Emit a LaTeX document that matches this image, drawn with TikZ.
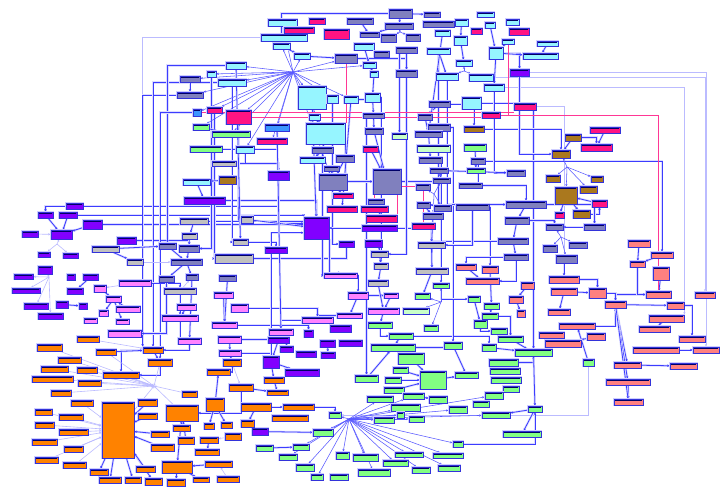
\documentclass[tikz,border=0pt]{standalone}
\usepackage{tikz}
\usetikzlibrary{arrows.meta, fit, backgrounds}
\definecolor{cyanbox}{RGB}{150,245,255}
\definecolor{slatebox}{RGB}{128,128,190}
\definecolor{greybox}{RGB}{192,192,192}
\definecolor{magbox}{RGB}{255,20,130}
\definecolor{brownbox}{RGB}{170,120,30}
\definecolor{purplebox}{RGB}{130,0,255}
\definecolor{pinkbox}{RGB}{255,130,255}
\definecolor{orangebox}{RGB}{255,130,0}
\definecolor{greenbox}{RGB}{130,255,130}
\definecolor{palegreen}{RGB}{200,255,200}
\definecolor{salmonbox}{RGB}{255,128,128}
\definecolor{steelbox}{RGB}{60,150,255}
\definecolor{edgeblue}{RGB}{60,60,255}

\begin{document}
\begin{tikzpicture}[
  x=1pt, y=-1pt,
  >=Stealth,
  nb/.style={draw=edgeblue!85!black, line width=0.8pt, inner sep=0pt,
    preaction={draw=edgeblue!25, line width=2.6pt},
    path picture={\fill[blue!40!black] ([xshift=1pt,yshift=-0.8pt]path picture bounding box.north west)
      rectangle ([xshift=-1pt,yshift=-2pt]path picture bounding box.north east);}},
  ln/.style={draw=edgeblue, line width=0.8pt, -{Stealth[length=2.5pt,width=2.4pt]},
    preaction={draw=edgeblue!18, line width=2.2pt, arrows=-}},
  fan/.style={draw=edgeblue!85, line width=0.55pt, -{Stealth[length=2.5pt,width=2.2pt]}},
  lln/.style={draw=edgeblue!35, line width=0.6pt, -{Stealth[length=2.5pt,width=2.2pt]}},
  rln/.style={draw=magbox!85, line width=0.8pt}
]
\useasboundingbox (0,0) rectangle (723,496);

% Cyan modules
\foreach \n/\xa/\ya/\xb/\yb in {c1/226/62/246/69, c2/207/71/216/77, c3/218/79/246/86, c4/236/146/254/153,
  c5/268/19/297/26, c6/261/34/307/41, c7/273/43/290/49, c8/294/53/310/59, c9/298/86/326/109,
  c10/327/95/338/103, c11/344/96/358/103, c12/309/114/320/120, c13/306/123/345/144, c14/300/157/325/163,
  c15/354/43/374/50, c16/363/62/376/68, c17/370/71/378/77, c18/365/93/380/102, c19/435/30/450/36,
  c20/454/36/467/45, c21/427/48/450/54, c22/456/60/472/66, c23/436/73/458/80, c24/469/74/493/81,
  c25/462/97/481/109, c26/455/19/468/26, c27/477/12/494/17, c28/485/22/495/28, c29/506/19/519/25,
  c30/502/39/514/44, c31/489/47/503/59, c32/537/41/558/46, c33/523/53/558/59, c34/484/84/504/91,
  c35/183/179/210/185}
  \node[nb, fill=cyanbox, fit={(\xa,\ya) (\xb,\yb)}] (\n) {};
\foreach \n/\xa/\ya/\xb/\yb in {t1/193/109/201/116, t2/265/124/289/131}
  \node[nb, fill=steelbox, fit={(\xa,\ya) (\xb,\yb)}] (\n) {};

% Slate modules
\foreach \n/\xa/\ya/\xb/\yb in {s1/180/76/200/82, s2/177/92/203/98, s3/389/9/412/18, s4/424/12/440/17,
  s5/347/18/373/24, s6/385/23/413/29, s7/423/21/454/27, s8/360/32/379/37, s9/381/34/396/42,
  s10/406/34/420/41, s11/374/51/389/57, s12/396/47/417/53, s13/335/54/357/63, s14/396/70/417/77,
  s15/363/113/384/118, s16/418/114/432/120, s17/429/101/450/107, s18/428/124/450/131, s19/365/128/383/134,
  s20/415/131/442/137, s21/312/147/333/153, s22/336/155/354/162, s23/419/157/442/163, s24/471/158/485/164,
  s25/324/166/339/171, s26/319/174/347/190, s27/373/169/401/194, s28/430/168/448/173, s29/433/178/450/183,
  s30/416/184/430/190, s31/459/183/482/188, s32/368/199/384/204, s33/417/202/430/208, s34/434/205/451/211,
  s35/456/204/489/210, s36/423/213/443/219, s37/507/170/525/176, s38/506/201/546/208, s39/505/217/529/224,
  s40/546/224/563/230, s41/584/224/605/230, s42/498/238/528/244, s43/543/245/557/252, s44/569/242/587/248,
  s45/556/255/577/263, s46/504/254/528/260, s47/159/243/176/249, s48/179/245/199/252, s49/171/259/202/265,
  s50/159/276/174/282, s51/186/274/198/280, s52/219/275/236/281}
  \node[nb, fill=slatebox, fit={(\xa,\ya) (\xb,\yb)}] (\n) {};

% Grey modules
\foreach \n/\xa/\ya/\xb/\yb in {y1/212/161/236/166, y2/180/218/208/224, y3/182/233/197/239, y4/92/246/119/252,
  y5/215/254/253/263, y6/127/259/143/265, y7/164/288/196/294, y8/241/216/253/223, y9/233/239/248/245,
  y10/418/242/445/248, y11/371/251/388/257, y12/374/263/388/269, y13/416/268/448/274, y14/368/280/388/286}
  \node[nb, fill=greybox, fit={(\xa,\ya) (\xb,\yb)}] (\n) {};

% Magenta modules
\foreach \n/\xa/\ya/\xb/\yb in {m1/207/107/222/113, m2/226/110/251/124, m3/309/18/325/24, m4/284/27/314/33,
  m5/324/29/349/39, m6/257/138/287/144, m7/363/146/378/152, m8/471/28/482/34, m9/509/28/529/35,
  m10/514/103/536/110, m11/482/112/500/118, m12/590/127/620/133, m13/581/144/612/151, m14/333/193/353/198,
  m15/327/206/357/212, m16/361/206/388/212, m17/366/215/397/222, m18/412/223/435/229, m19/592/200/607/207,
  m20/555/212/564/218}
  \node[nb, fill=magbox, fit={(\xa,\ya) (\xb,\yb)}] (\n) {};

% Brown modules
\foreach \n/\xa/\ya/\xb/\yb in {b1/464/126/484/132, b2/565/134/581/141, b3/552/150/570/158, b4/546/175/560/182,
  b5/591/176/603/182, b6/580/186/597/193, b7/555/187/577/204, b8/573/210/590/218, b9/219/176/236/184}
  \node[nb, fill=brownbox, fit={(\xa,\ya) (\xb,\yb)}] (\n) {};

% Purple modules
\foreach \n/\xa/\ya/\xb/\yb in {p1/510/69/529/76, p2/268/171/289/180, p3/304/217/329/239, p4/362/225/397/231,
  p5/265/247/287/253, p6/339/241/354/247, p7/365/240/382/247, p8/184/197/225/204, p9/66/203/83/209,
  p10/38/212/53/218, p11/59/212/77/218, p12/83/220/102/229, p13/51/230/72/239, p14/22/231/38/237,
  p15/117/237/136/244, p16/38/252/50/257, p17/63/253/78/258, p18/38/266/52/274, p19/14/274/33/279,
  p20/67/274/75/280, p21/83/274/98/280, p22/12/288/40/293, p23/67/288/83/294, p24/56/301/68/308,
  p25/79/303/87/309, p26/24/303/48/309, p27/38/313/63/319, p28/330/325/351/332, p29/304/330/313/337,
  p30/268/337/289/343, p31/320/340/335/347, p32/339/340/362/346, p33/280/346/293/352, p34/296/351/316/357,
  p35/321/352/335/358, p36/263/356/279/368, p37/285/369/319/376, p38/252/428/268/435}
  \node[nb, fill=purplebox, fit={(\xa,\ya) (\xb,\yb)}] (\n) {};

% Pink modules
\foreach \n/\xa/\ya/\xb/\yb in {k1/324/273/357/278, k2/348/292/368/299, k3/384/293/398/298, k4/231/304/248/312,
  k5/368/308/399/314, k6/337/313/362/318, k7/302/317/333/323, k8/269/329/293/335, k9/119/280/151/286,
  k10/94/285/106/292, k11/214/292/233/298, k12/106/296/121/302, k13/116/306/140/312, k14/177/304/196/310,
  k15/99/310/108/316, k16/162/315/198/321, k17/84/318/97/323, k18/116/319/129/324, k19/212/322/237/328,
  k20/108/330/141/337, k21/178/338/201/344, k22/218/336/241/343, k23/219/350/241/356}
  \node[nb, fill=pinkbox, fit={(\xa,\ya) (\xb,\yb)}] (\n) {};

% Orange modules
\foreach \n/\xa/\ya/\xb/\yb in {o1/77/336/99/342, o2/37/344/62/351, o3/96/349/116/355, o4/143/347/163/353,
  o5/58/357/81/363, o6/148/359/172/366, o7/223/359/241/366, o8/41/366/68/372, o9/77/367/97/373,
  o10/103/372/139/378, o11/207/369/230/375, o12/32/376/73/382, o13/78/380/101/386, o14/51/390/71/396,
  o15/182/391/197/397, o16/229/384/253/391, o17/71/400/93/406, o18/138/399/157/406, o19/102/402/134/458,
  o20/166/405/198/421, o21/206/398/224/411, o22/35/409/52/415, o23/138/413/157/419, o24/59/414/83/420,
  o25/35/422/54/428, o26/173/425/190/431, o27/204/423/214/429, o28/221/422/232/428, o29/59/429/88/435,
  o30/151/431/169/437, o31/225/433/241/440, o32/178/437/194/444, o33/200/437/218/443, o34/32/439/57/445,
  o35/151/444/174/451, o36/64/446/83/452, o37/195/449/219/455, o38/35/457/58/463, o39/63/462/86/468,
  o40/136/466/155/472, o41/162/461/192/473, o42/205/461/232/467, o43/90/469/108/475, o44/99/477/121/483,
  o45/125/477/141/483, o46/145/478/162/485, o47/167/479/185/486, o48/193/477/209/482, o49/217/476/239/482,
  o50/264/377/284/383, o51/267/390/288/395, o52/241/403/271/411, o53/283/404/314/410, o54/272/415/308/421,
  o55/241/420/254/427}
  \node[nb, fill=orangebox, fit={(\xa,\ya) (\xb,\yb)}] (\n) {};

% Green modules
\foreach \n/\xa/\ya/\xb/\yb in {g1/193/124/209/130, g2/212/131/250/137, g3/190/146/222/152, g6/464/144/486/151,
  g7/467/168/485/173, g8/433/283/449/288, g9/415/293/430/299, g10/468/296/480/302, g12/368/322/392/328,
  g13/424/325/438/331, g14/474/320/487/328, g15/484/303/499/309, g16/482/313/498/319, g17/491/328/507/334,
  g18/389/333/413/339, g19/498/336/523/342, g20/371/344/415/351, g21/444/342/462/349, g22/482/344/496/351,
  g23/515/349/552/356, g24/398/353/424/364, g25/393/367/408/373, g26/420/371/446/389, g27/455/372/478/378,
  g28/355/375/378/382, g29/385/377/401/383, g30/489/359/518/366, g31/583/359/594/366, g32/490/368/520/374,
  g33/491/377/521/383, g34/384/387/404/393, g35/503/386/519/392, g36/403/393/424/399, g37/429/396/447/403,
  g38/367/396/393/402, g39/485/392/503/399, g40/473/401/489/407, g41/391/404/420/411, g42/449/406/467/413,
  g43/528/406/542/412, g44/482/412/510/418, g45/329/412/341/418, g46/397/412/404/418, g47/374/417/394/423,
  g48/409/416/424/422, g49/313/429/333/436, g50/503/431/541/437, g51/256/445/273/451, g52/293/444/309/450,
  g53/453/441/463/447, g54/279/454/297/460, g55/336/452/349/459, g56/353/454/378/461, g57/395/452/423/457,
  g58/433/453/463/458, g59/383/460/408/466, g60/296/464/314/471, g61/438/465/460/471, g62/412/467/430/473,
  g63/358/469/390/476, g64/311/474/323/480, g65/330/474/348/480}
  \node[nb, fill=greenbox, fit={(\xa,\ya) (\xb,\yb)}] (\n) {};
\foreach \n/\xa/\ya/\xb/\yb in {g4/392/133/407/139, g5/417/145/450/152, g11/403/308/429/314}
  \node[nb, fill=palegreen, fit={(\xa,\ya) (\xb,\yb)}] (\n) {};

% Salmon modules
\foreach \n/\xa/\ya/\xb/\yb in {r1/456/264/476/270, r2/466/278/499/284, r3/482/266/498/273, r4/628/240/650/247,
  r5/651/252/673/258, r6/630/261/645/267, r7/653/267/669/280, r8/549/276/579/283, r9/521/282/534/289,
  r10/589/288/606/298, r11/551/288/577/295, r12/646/291/671/298, r13/509/296/523/303, r14/695/292/715/298,
  r15/605/301/626/308, r16/667/302/684/309, r17/517/310/525/317, r18/548/309/570/315, r19/649/315/684/322,
  r20/559/323/595/329, r21/639/326/670/332, r22/539/332/564/338, r23/545/340/581/347, r24/587/333/605/340,
  r25/679/336/705/342, r26/633/347/679/353, r27/693/347/719/353, r28/614/362/641/368, r29/670/363/697/369,
  r30/606/379/650/385, r31/614/399/643/405}
  \node[nb, fill=salmonbox, fit={(\xa,\ya) (\xb,\yb)}] (\n) {};

% Fan junctions
\coordinate (hubA) at (293,72);
\coordinate (hubB) at (349,419);
\coordinate (hubC) at (154,386);
\coordinate (hubD) at (567,167);
\coordinate (hubE) at (57,244);
\coordinate (hubP) at (49,277);
\coordinate (hubF) at (561,237);
\coordinate (hubG) at (464,71);
\coordinate (hubH) at (400,32);
\coordinate (hubI) at (434,194);
\coordinate (hubJ) at (441,302);

\begin{pgfonlayer}{background}
\fill[white] (0,0) rectangle (723,496);

% Long routed links
\foreach \a/\b in {c6.west/o4.north west, c34.east/r19.north east, c24.east/r14.north, m10.east/r8.north,
  p1.east/r27.north}
  \draw[lln] (\a) -| (\b);
\draw[lln] (g31.south) |- (g45.east);
\foreach \a/\b in {s27/s28, r12/r15, r10/r15, r8/r10, b8/m19, b2/m13, k1/k2, k6/k7, k7/k8, p9/p2,
  p11.east/p3.north west, p12.east/p3.west, p15.east/s48.north, s2.west/o4.north west, c3.west/o4.north,
  c1.west/s47.north, t1.west/o6.north, s3.west/c7.north, c25.east/g23.north, s35.east/r3.north,
  s31.east/s38.north, b1.east/b3.north, s17.east/b1.north, s38.east/s41.north, s39.east/s40.north,
  s45.east/r8.north, g16.east/g19.north, g53.east/g43.south, c31.east/p1.north, s13.east/s14.north,
  c11.east/c18.north, p9.west/p10.north, y2.east/p3.west, o53.east/g45.north, y1.east/p2.north,
  g3.east/t2.south, y5.east/p6.north, y9.east/p5.north, k4.east/k7.north, k19.east/p29.north,
  k22.east/p33.north, k23.east/p36.north, o4.west/o10.north, r20.east/r15.south, r16.east/r25.north,
  g30.east/g23.south, g20.east/g21.north, g18.east/g22.north, p4.east/y10.north, p7.east/y11.north,
  s42.west/y13.north, s46.west/r1.north, p8.east/p3.north, k9.east/y7.north, s24.east/r5.north,
  s15.west/g28.north, s18.east/g21.north, s23.east/g8.north, c18.east/y12.north, s12.east/g4.north}
  \draw[ln] (\a) -| (\b);
\foreach \a/\b in {r6/r12, c23.south/s38.west, c34.south/s37.west, s46.south/r2.east, g8.south/g10.west,
  g14/g17, p36.north/p3.200, p3.south east/k1.north, p2.south/p3.160, c4.south/y1.east,
  c13.south east/s27.west, s24.south/s31.east, s50.south/k20.east, k16.south/k21.west, k21.south/o4.east,
  o7.south/o11.east, o16.south/o20.east, o6.south/o10.east, g12.south/g18.west, s35.south/y10.east,
  c2.south/s48.east, m1.south/y5.west, c3.south/y9.west, m2.south/y8.west, p1.south/b3.west,
  c10.south/p6.west, s21.south/k1.west, s14.south/y11.east, c21.south/s33.east}
  \draw[ln] (\a) |- (\b);

% Fans
\foreach \t in {s1, s2, c1, c3, c2, t1, m1, m2, c4, c8, c7, c9, c10, s13, c13, t2, g1, c11, c5, m6, g2, s26, c16}
  \draw[fan] (hubA) -- (\t);
\foreach \t in {g45, g49, g38, g47, g46, g48, g41, g36, g57, g58, g53, g56, g55, g60, g64, g63, g59, g44, g39, g52, g42, g61, g62, g54}
  \draw[fan] (hubB) -- (\t);
\foreach \t in {o9, o8, o12, o13, o10, o5, o6, o19, o20, o14, o2, o3, o15}
  \draw[lln] (\t) -- (hubC);
\foreach \t in {b4, b5, b6, b7, b3}
  \draw[fan] (hubD) -- (\t);
\foreach \t in {p13, p16, p17}
  \draw[lln] (hubE) -- (\t);
\foreach \t in {p18, p19, p22, p26, p27}
  \draw[lln] (hubP) -- (\t);
\foreach \t in {s40, s43, s44, s45}
  \draw[fan] (hubF) -- (\t);
\foreach \t in {c22, c23, c24}
  \draw[fan] (hubG) -- (\t);
\foreach \t in {s6, s9, s10}
  \draw[fan] (hubH) -- (\t);
\foreach \t in {s29, s30, s34, s36}
  \draw[fan] (hubI) -- (\t);
\foreach \t in {g8, g9, g11, g13}
  \draw[fan] (hubJ) -- (\t);

% Direct links
\foreach \a/\b in {s3/s4, s3/s6, s6/s8, c26/c20, c28/c31, c30/c31, c32/c33, c31/c33, c31/c34, c20/c22,
  c7/c8, c15/c16, c16/c17, s12/s14, c17/c18, c18/s15, s15/s19, s19/s27, s16/s20, s17/s16, s20/s23,
  c13/c12, c9/c12, c10/c9, c13/s21, s21/c14, s25/s26, s26/m14, s33/s36, s29/s28, s38/s39, s39/s42,
  s42/s46, s41/s40, b7/b8, b7/m20, m19/b7, b2/b3, m12/m13, r4/r6, r7/r12, r15/r16, r11/r10, r11/r18,
  r9/r13, r13/r17, r19/r21, r1/r2, r22/r23, r24/r23, r26/r27, r28/r29, r30/r31, r5/r6, g19/g23, g23/g43,
  g43/g44, g43/g50, g26/g27, g24/g26, g24/g20, g25/g26, g29/g26, g34/g26, g36/g37, g18/g20, g21/g27,
  p4/p3, k2/k3, k3/k5, k2/k6, k8/p30, p30/p36, p31/p35, p36/p37, p36/o50, o50/o51, o16/o51, o52/o53,
  o52/o55, o55/p38, p38/g49, g51/g52, s28/s37, r3/g15, g15/g16, g10/g14, o4/o6, o3/o4, o21/o11,
  o20/o41, o41/o47, o41/o48, o42/o41, o19/o44, o19/o45, o19/o46, o19/o43, p10/p13, p11/p13, p12/p13,
  p24/p25, p21/p23, k10/k12, k12/k15, k12/k18, k13/k12, s5/s8, c6/c7, g1/g2, s1/s2, s47/s49, s48/s49,
  s49/s50, s49/s51, y2/y3, y3/s48, y4/y6, k14/k16, k11/k19, y10/y13, y11/y12, y12/y14, c8/s13, c21/c23,
  o21/o27, o21/o28, o18/o19, o23/o19, o30/o19, o35/o19, o40/o19, o20/o26, o32/o20, o33/o37, g28/g20,
  c9/p3, m7/s27, s22/s26, g6/g7, y8/p3, s51/k21, s52/k19, y7/k16, k22/k23, k23/o7, r15/r28, r15/r30,
  r15/r31, g31/r20, g22/g23, k5/g12, y14/k5, y13/g9, s32/m17, s36/y10, b9/c35, c35/p8, y4/s47,
  t2/k8, c11/m15, c19/s20, c1/y9}
  \draw[ln] (\a) -- (\b);
\foreach \a/\b in {o22/o19, o24/o19, o25/o19, o29/o19, o34/o19, o36/o19, o38/o19, o39/o19, o17/o19,
  o1/o4, o7/o16, p14/p13, y6/s49, y7/s51, k9/k10, o31/o33, o49/o42}
  \draw[lln] (\a) -- (\b);

% Red links
\draw[rln] (m2.east) -- (m2.east -| m11.west);
\draw[rln] (t1.east) -- (t1.east -| m10.west);
\draw[rln] (s13) -- (s13 |- c13.north);
\draw[rln] (m17.north east) -- (m17.north east |- s27.south);
\draw[rln] (m16.north) -- (m16.north |- s27.south);
\draw[rln] (m18.north) |- (s27.-20);
\draw[rln] (m11.east) -| (r12.north);
\draw[rln] (c30.south) |- (m11.east);
\end{pgfonlayer}

\end{tikzpicture}
\end{document}
